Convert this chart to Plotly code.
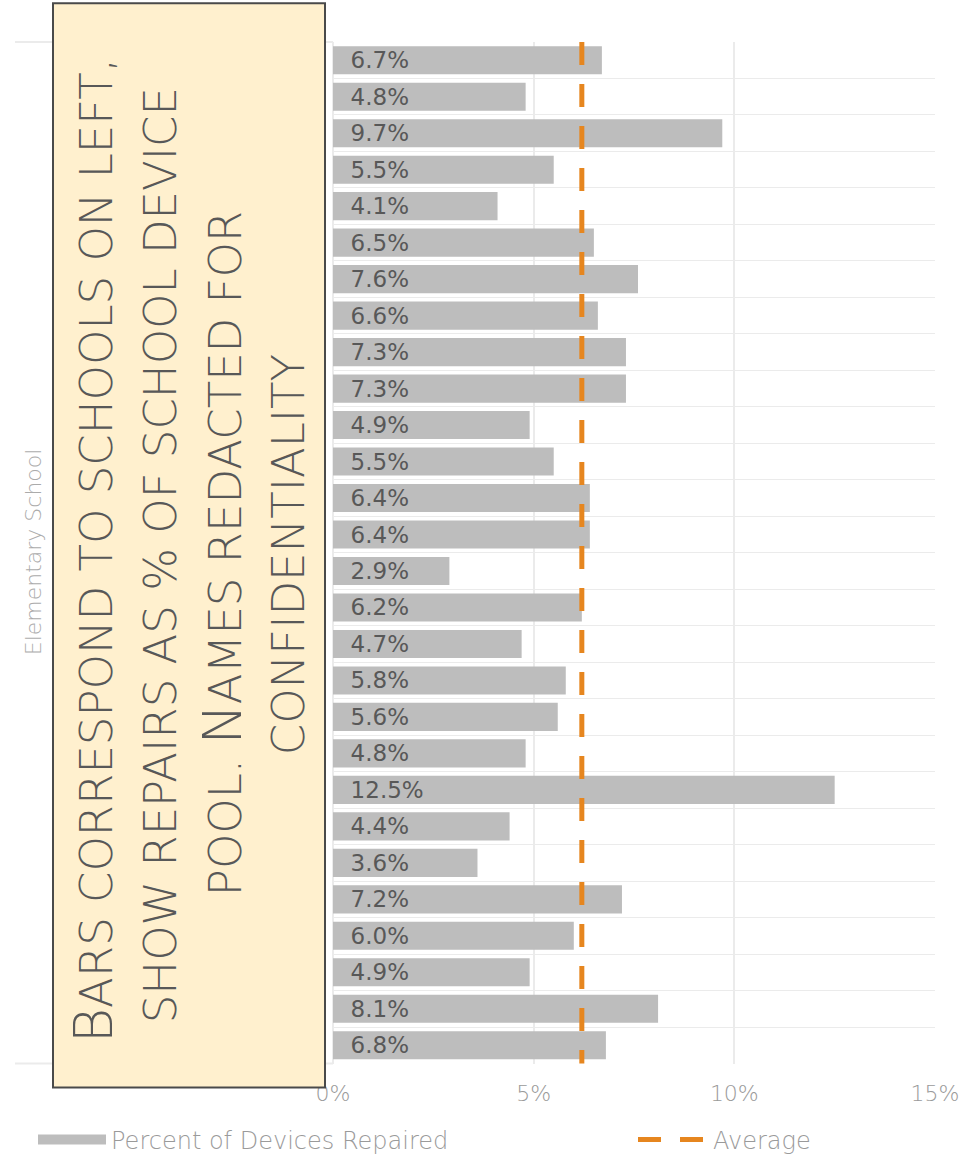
import plotly.graph_objects as go

# Repair rate per elementary school (percent of the school's device pool)
SCHOOLS = [f"School {i:02d}" for i in range(1, 29)]
PCT_REPAIRED = [6.7, 4.8, 9.7, 5.5, 4.1, 6.5, 7.6, 6.6, 7.3, 7.3,
                4.9, 5.5, 6.4, 6.4, 2.9, 6.2, 4.7, 5.8, 5.6, 4.8,
                12.5, 4.4, 3.6, 7.2, 6.0, 4.9, 8.1, 6.8]
AVERAGE = 6.2
X_TICKS = [0, 5, 10, 15]
X_TICK_LABELS = ["0%", "5%", "10%", "15%"]

FONT = "DejaVu Sans"
BAR_GRAY = "#BDBDBD"
TEXT_DARK = "#585858"
TEXT_LIGHT = "#9A9A9A"
GRID = "#EBEBEB"
ORANGE = "#E6861F"

W, H = 979, 1156
# plot-area geometry in pixels, used to place paper-referenced decorations
PLOT_L, PLOT_R, PLOT_T, PLOT_B = 333, 935, 42, 1067
PW, PH = PLOT_R - PLOT_L, PLOT_B - PLOT_T


def px_x(px):
    return (px - PLOT_L) / PW


def px_y(py):
    return (PLOT_B - py) / PH


fig = go.Figure()

fig.add_trace(go.Bar(
    y=SCHOOLS,
    x=PCT_REPAIRED,
    orientation="h",
    marker=dict(color=BAR_GRAY, line=dict(width=0)),
    texttemplate="\u00a0\u00a0%{x:.1f}%",
    textposition="inside",
    insidetextanchor="start",
    textangle=0,
    constraintext="none",
    insidetextfont=dict(family=FONT, size=23, color=TEXT_DARK),
    name="Percent of Devices Repaired",
    showlegend=False,
    hoverinfo="skip",
))

# legend swatch for the bars
fig.add_trace(go.Scatter(
    x=[None], y=[None], mode="lines",
    line=dict(color=BAR_GRAY, width=13),
    name="Percent of Devices Repaired",
    legend="legend",
))

# average reference line
fig.add_shape(
    type="line", xref="x", yref="y domain",
    x0=AVERAGE, x1=AVERAGE, y0=1, y1=0,
    line=dict(color=ORANGE, width=5, dash="23px,19px"),
    name="Average", showlegend=True, legend="legend2", layer="above",
)

# boundary lines extending left past the axis
for yv in (0, 1):
    fig.add_shape(type="line", xref="paper", yref="paper",
                  x0=px_x(15), x1=0, y0=yv, y1=yv,
                  line=dict(color=GRID, width=2), layer="below")

# note box covering the school names
fig.add_shape(type="rect", xref="paper", yref="paper",
              x0=px_x(53), x1=px_x(325), y0=px_y(1091), y1=px_y(3),
              fillcolor="#FFF0CE", line=dict(color="#4A4A4A", width=2),
              layer="above")

BIG = "<span style='font-size:54px'>{}</span>"
NOTE_LINES = [
    BIG.format("B") + "ARS CORRESPOND TO SCHOOLS ON LEFT,",
    "SHOW REPAIRS AS % OF SCHOOL DEVICE",
    "POOL. " + BIG.format("N") + "AMES REDACTED FOR",
    "CONFIDENTIALITY",
]
NOTE_X = [93, 160, 222, 288]
NOTE_Y = [553, 557, 556, 557]
for txt, nx, ny in zip(NOTE_LINES, NOTE_X, NOTE_Y):
    fig.add_annotation(text=txt, xref="paper", yref="paper",
                       x=px_x(nx), y=px_y(ny),
                       xanchor="center", yanchor="middle", textangle=-90,
                       showarrow=False,
                       font=dict(family=FONT, size=45, color=TEXT_DARK, weight=200))

fig.add_annotation(text="Elementary School", xref="paper", yref="paper",
                   x=px_x(33), y=px_y(554), textangle=-90, showarrow=False,
                   xanchor="center", yanchor="middle",
                   font=dict(family=FONT, size=22, color="#ABABAB", weight=200))

LEGEND_FONT = dict(family=FONT, size=24, color=TEXT_LIGHT, weight=200)
fig.update_layout(
    width=W, height=H,
    margin=dict(l=PLOT_L, r=W - PLOT_R, t=PLOT_T, b=H - PLOT_B),
    paper_bgcolor="white", plot_bgcolor="white",
    bargap=0.23,
    font=dict(family=FONT, color=TEXT_LIGHT),
    showlegend=True,
    legend=dict(orientation="h", xref="container", yref="container",
                x=33 / W, xanchor="left", y=(H - 1140) / H, yanchor="middle",
                itemwidth=68, font=LEGEND_FONT),
    legend2=dict(orientation="h", xref="container", yref="container",
                 x=633 / W, xanchor="left", y=(H - 1140) / H, yanchor="middle",
                 itemwidth=70, font=LEGEND_FONT),
    xaxis=dict(range=[0, 15], tickvals=X_TICKS, ticktext=X_TICK_LABELS,
               showgrid=True, gridcolor=GRID, gridwidth=2,
               zeroline=True, zerolinecolor=GRID, zerolinewidth=2,
               showline=False, ticks="", ticklabelstandoff=14,
               tickfont=dict(family=FONT, size=22, color=TEXT_LIGHT, weight=200)),
    yaxis=dict(categoryorder="array", categoryarray=SCHOOLS,
               autorange="reversed", showticklabels=False, ticks="",
               tickson="boundaries", showgrid=True, gridcolor=GRID,
               gridwidth=1, showline=False, zeroline=False),
)

fig.write_html("out.html")
